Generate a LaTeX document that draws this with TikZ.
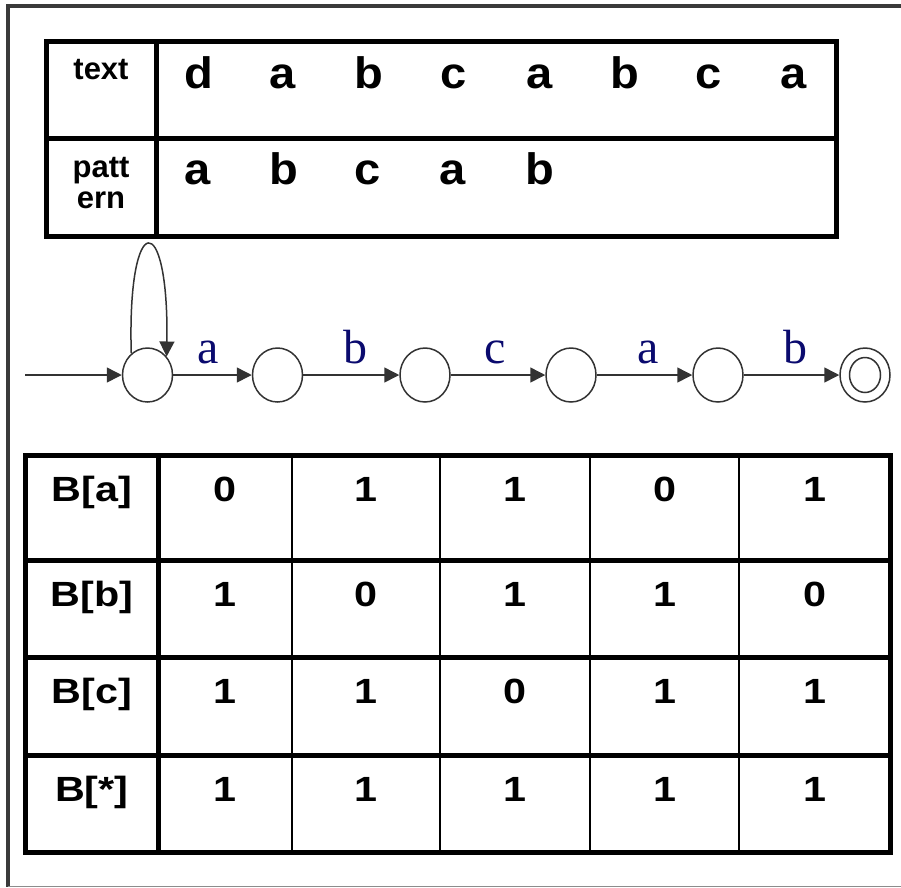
\documentclass[tikz,border=0pt]{standalone}
\usepackage{fontspec}
\setmainfont{Liberation Sans}
\newfontfamily\edgefont{Liberation Serif}
\newfontfamily\topfont[FakeStretch=1.07]{Liberation Sans}
\newfontfamily\tablefont[FakeStretch=1.18]{Liberation Sans}
\usetikzlibrary{arrows.meta,shapes.geometric}
\definecolor{edgegray}{HTML}{333333}
\definecolor{labelnavy}{RGB}{10,10,110}
\definecolor{framedark}{HTML}{3A3A3A}
\definecolor{framelight}{HTML}{8C8C8C}

\begin{document}
\begin{tikzpicture}[x=1pt,y=-1pt,
  gridthick/.style={line width=5pt, black},
  gridthin/.style={line width=2pt, black},
  toptxt/.style={anchor=base, inner sep=0pt, font=\topfont\bfseries\fontsize{44}{46}\selectfont},
  headtxt/.style={anchor=base, inner sep=0pt, font=\bfseries\fontsize{31}{31}\selectfont},
  celltxt/.style={anchor=base, inner sep=0pt, font=\tablefont\bfseries\fontsize{35}{37}\selectfont},
  state/.style={ellipse, draw=edgegray, line width=1.5pt, minimum width=50pt, minimum height=54pt, inner sep=0pt},
  edge/.style={draw=edgegray, line width=1.5pt, -{Triangle[length=15pt,width=15pt]}},
  lbl/.style={anchor=base, inner sep=0pt, text=labelnavy, font=\edgefont\fontsize{48}{50}\selectfont}
]
\useasboundingbox (0,0) rectangle (901,887);

% outer frame
\draw[framedark, line width=3.5pt] (8,886.5) -- (8,6) -- (901,6);
\draw[framelight, line width=1.2pt] (8,886.5) -- (901,886.5);

% text / pattern table
\draw[gridthick] (46,41.5) rectangle (836,236);
\draw[gridthick] (46,138) -- (836,138);
\draw[gridthick] (156,41.5) -- (156,236);

\node[headtxt] (htext) at (101,79.5) {text};
\node[headtxt] (hpat1) at (101,177) {patt};
\node[headtxt] (hpat2) at (101,208) {ern};

\foreach \ch/\x [count=\i] in {d/198.5,a/283,b/368.5,c/453.5,a/540,b/625,c/708.5,a/793.5}
  \node[toptxt] (t\i) at (\x,88) {\ch};
\foreach \ch/\x [count=\i] in {a/198,b/284,c/368,a/453,b/540}
  \node[toptxt] (p\i) at (\x,184.5) {\ch};

% automaton for the pattern
\node[state] (s0) at (147.5,375) {};
\node[state] (s1) at (277.5,375) {};
\node[state] (s2) at (425,375) {};
\node[state] (s3) at (571,375) {};
\node[state] (s4) at (718,375) {};
\node[state] (s5) at (865,375) {};
\node[ellipse, draw=edgegray, line width=1.5pt, minimum width=31pt, minimum height=35pt, inner sep=0pt] (s5in) at (s5) {};
\coordinate (start) at (25,375);

\draw[edge] (start) -- (s0);
\draw[edge] (s0.127) .. controls (127,208) and (169,208) .. (s0.44);
\draw[edge] (s0) -- (s1);
\draw[edge] (s1) -- (s2);
\draw[edge] (s2) -- (s3);
\draw[edge] (s3) -- (s4);
\draw[edge] (s4) -- (s5);

\node[lbl] (la1) at (208,363) {a};
\node[lbl] (lb1) at (355,363) {b};
\node[lbl] (lc1) at (495,363) {c};
\node[lbl] (la2) at (648,363) {a};
\node[lbl] (lb2) at (795,363) {b};

% bit-mask table
\draw[gridthick] (25,455.5) rectangle (890,852.5);
\foreach \y in {560,657.5,755.5}
  \draw[gridthick] (25,\y) -- (890,\y);
\draw[gridthick] (158.5,455.5) -- (158.5,852.5);
\foreach \x in {291.5,440,590,739}
  \draw[gridthin] (\x,455.5) -- (\x,852.5);

\foreach \row/\top [count=\r] in {a/455.5, b/560, c/657.5, */755.5}
  \node[celltxt] (m\r) at (91.75,\top+46) {B[\row]};
\foreach \vals/\top [count=\r] in {{0,1,1,0,1}/455.5, {1,0,1,1,0}/560, {1,1,0,1,1}/657.5, {1,1,1,1,1}/755.5}
  \foreach \v [count=\c] in \vals {
    \pgfmathsetmacro{\cx}{{225,365.75,515,664.5,814.5}[\c-1]}
    \node[celltxt] (c\r\c) at (\cx,\top+46) {\v};
  }
\end{tikzpicture}
\end{document}
